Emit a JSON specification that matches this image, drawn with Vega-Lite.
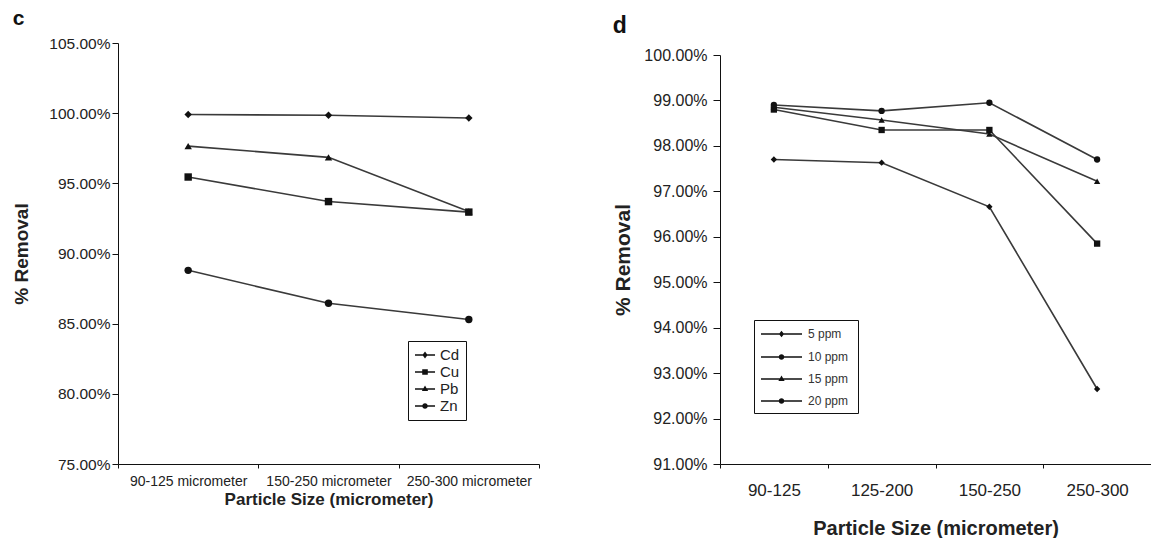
{
  "$schema": "https://vega.github.io/schema/vega-lite/v6.json",
  "background": "white",
  "padding": {"left": 12, "top": 8, "right": 0, "bottom": 0},
  "align": "none",
  "config": {
    "font": "Liberation Sans",
    "view": {"stroke": null},
    "axis": {"domainColor": "#111", "tickColor": "#111", "labelColor": "#222", "titleColor": "#222", "grid": false, "labelFont": "Liberation Sans", "titleFont": "Liberation Sans"},
    "legend": {"labelFont": "Liberation Sans"}
  },
  "resolve": {"scale": {"shape": "independent", "y": "independent", "x": "independent"}, "legend": {"shape": "independent"}},
  "datasets": {
    "metals": [
      {"size": "90-125 micrometer", "metal": "Cd", "removal": 0.999},
      {"size": "150-250 micrometer", "metal": "Cd", "removal": 0.9985},
      {"size": "250-300 micrometer", "metal": "Cd", "removal": 0.9966},
      {"size": "90-125 micrometer", "metal": "Cu", "removal": 0.9545},
      {"size": "150-250 micrometer", "metal": "Cu", "removal": 0.937},
      {"size": "250-300 micrometer", "metal": "Cu", "removal": 0.9295},
      {"size": "90-125 micrometer", "metal": "Pb", "removal": 0.9765},
      {"size": "150-250 micrometer", "metal": "Pb", "removal": 0.9685},
      {"size": "250-300 micrometer", "metal": "Pb", "removal": 0.93},
      {"size": "90-125 micrometer", "metal": "Zn", "removal": 0.888},
      {"size": "150-250 micrometer", "metal": "Zn", "removal": 0.8645},
      {"size": "250-300 micrometer", "metal": "Zn", "removal": 0.853}
    ],
    "conc": [
      {"size": "90-125", "conc": "5 ppm", "removal": 0.977},
      {"size": "125-200", "conc": "5 ppm", "removal": 0.9763},
      {"size": "150-250", "conc": "5 ppm", "removal": 0.9666},
      {"size": "250-300", "conc": "5 ppm", "removal": 0.9265},
      {"size": "90-125", "conc": "10 ppm", "removal": 0.988},
      {"size": "125-200", "conc": "10 ppm", "removal": 0.9835},
      {"size": "150-250", "conc": "10 ppm", "removal": 0.9835},
      {"size": "250-300", "conc": "10 ppm", "removal": 0.9585},
      {"size": "90-125", "conc": "15  ppm", "removal": 0.9885},
      {"size": "125-200", "conc": "15  ppm", "removal": 0.9857},
      {"size": "150-250", "conc": "15  ppm", "removal": 0.9826},
      {"size": "250-300", "conc": "15  ppm", "removal": 0.9722},
      {"size": "90-125", "conc": "20 ppm", "removal": 0.989},
      {"size": "125-200", "conc": "20 ppm", "removal": 0.9877},
      {"size": "150-250", "conc": "20 ppm", "removal": 0.9895},
      {"size": "250-300", "conc": "20 ppm", "removal": 0.977}
    ]
  },
  "hconcat": [
    {
      "width": 421,
      "height": 421,
      "title": {"text": "c", "anchor": "start", "frame": "bounds", "fontSize": 21, "fontWeight": "bold", "color": "#111", "offset": 7},
      "data": {"name": "metals"},
      "encoding": {
        "x": {"field": "size", "type": "nominal", "bandPosition": 0.5,
              "sort": ["90-125 micrometer", "150-250 micrometer", "250-300 micrometer"],
              "scale": {"type": "band", "paddingInner": 0, "paddingOuter": 0},
              "axis": {"title": "Particle Size (micrometer)", "titleFontSize": 17, "titleFontWeight": "bold", "labelFontSize": 14, "labelAngle": 0, "tickBand": "extent", "tickSize": 4, "labelPadding": 6, "titlePadding": 3}},
        "y": {"field": "removal", "type": "quantitative",
              "scale": {"domain": [0.75, 1.05], "nice": false, "zero": false},
              "axis": {"title": "% Removal", "format": ".2%", "values": [0.75, 0.8, 0.85, 0.9, 0.95, 1.0, 1.05], "titleFontSize": 19, "titleFontWeight": "bold", "labelFontSize": 15.5, "tickSize": 6, "labelPadding": 2, "titlePadding": 17}}
      },
      "resolve": {"scale": {"shape": "independent"}, "legend": {"shape": "independent"}},
      "layer": [
        {"mark": {"type": "line", "strokeWidth": 1.6, "color": "#3a3a3a"}, "encoding": {"detail": {"field": "metal", "type": "nominal"}}},
        {"mark": {"type": "point", "filled": true, "size": 55, "opacity": 1, "color": "#111"},
         "encoding": {"shape": {"field": "metal", "type": "nominal", "scale": {"range": ["diamond", "square", "triangle-up", "circle"]}, "legend": null}}},
        {"mark": {"type": "point", "filled": true, "size": 196, "opacity": 0, "color": "#111"},
         "encoding": {"shape": {"field": "metal", "type": "nominal",
           "scale": {"range": ["M-1,-0.1L1.86,-0.1L1.86,0.1L-1,0.1ZM0.43,-0.5L0.8,0L0.43,0.5L0.06,0Z", "M-1,-0.1L1.86,-0.1L1.86,0.1L-1,0.1ZM0.03,-0.4L0.83,-0.4L0.83,0.4L0.03,0.4Z", "M-1,-0.1L1.86,-0.1L1.86,0.1L-1,0.1ZM0.43,-0.5L0.88,0.3L-0.02,0.3Z", "M-1,-0.1L1.86,-0.1L1.86,0.1L-1,0.1ZM0.83,0A0.4,0.4,0,1,1,0.03,0A0.4,0.4,0,1,1,0.83,0Z"]},
           "legend": {"title": null, "orient": "none", "legendX": 290, "legendY": 298, "strokeColor": "#111", "padding": 6, "labelFontSize": 15, "labelColor": "#222", "symbolSize": 196, "rowPadding": 1, "labelOffset": 10,
             "symbolOpacity": 1, "symbolFillColor": "#1a1a1a"}}}}
      ]
    },
    {
      "width": 431,
      "height": 421,
      "title": {"text": "d", "anchor": "start", "frame": "bounds", "fontSize": 23, "fontWeight": "bold", "color": "#111", "offset": 5},
      "data": {"name": "conc"},
      "encoding": {
        "x": {"field": "size", "type": "nominal", "bandPosition": 0.5,
              "sort": ["90-125", "125-200", "150-250", "250-300"],
              "scale": {"type": "band", "paddingInner": 0, "paddingOuter": 0},
              "axis": {"title": "Particle Size (micrometer)", "titleFontSize": 20, "titleFontWeight": "bold", "labelFontSize": 17, "labelAngle": 0, "tickBand": "extent", "tickSize": 4, "labelPadding": 14, "titlePadding": 20}},
        "y": {"field": "removal", "type": "quantitative",
              "scale": {"domain": [0.91, 1.0], "nice": false, "zero": false, "range": [421, 12]},
              "axis": {"title": "% Removal", "format": ".2%", "values": [0.91, 0.92, 0.93, 0.94, 0.95, 0.96, 0.97, 0.98, 0.99, 1.0], "titleFontSize": 21, "titleFontWeight": "bold", "labelFontSize": 16, "tickSize": 7, "labelPadding": 6, "titlePadding": 10}}
      },
      "resolve": {"scale": {"shape": "independent"}, "legend": {"shape": "independent"}},
      "layer": [
        {"mark": {"type": "line", "strokeWidth": 1.6, "color": "#3a3a3a"}, "encoding": {"detail": {"field": "conc", "type": "nominal"}}},
        {"mark": {"type": "point", "filled": true, "size": 40, "opacity": 1, "color": "#111"},
         "encoding": {"shape": {"field": "conc", "type": "nominal", "sort": ["5 ppm", "10 ppm", "15  ppm", "20 ppm"], "scale": {"range": ["diamond", "square", "triangle-up", "circle"]}, "legend": null}}},
        {"mark": {"type": "point", "filled": true, "size": 196, "opacity": 0, "color": "#111"},
         "encoding": {"shape": {"field": "conc", "type": "nominal", "sort": ["5 ppm", "10 ppm", "15  ppm", "20 ppm"],
           "scale": {"range": ["M-1,-0.1L4.86,-0.1L4.86,0.1L-1,0.1ZM1.93,-0.45L2.3,0L1.93,0.45L1.56,0Z", "M-1,-0.1L4.86,-0.1L4.86,0.1L-1,0.1ZM2.33,0A0.4,0.4,0,1,1,1.53,0A0.4,0.4,0,1,1,2.33,0Z", "M-1,-0.1L4.86,-0.1L4.86,0.1L-1,0.1ZM1.93,-0.5L2.38,0.3L1.48,0.3Z", "M-1,-0.1L4.86,-0.1L4.86,0.1L-1,0.1ZM2.33,0A0.4,0.4,0,1,1,1.53,0A0.4,0.4,0,1,1,2.33,0Z"]},
           "legend": {"title": null, "orient": "none", "legendX": 34, "legendY": 277, "strokeColor": "#111", "padding": 6, "labelFontSize": 12, "labelColor": "#333", "symbolSize": 196, "rowPadding": 8, "labelOffset": 32,
             "symbolOpacity": 1, "symbolFillColor": "#222"}}}}
      ]
    }
  ],
  "spacing": 72
}
